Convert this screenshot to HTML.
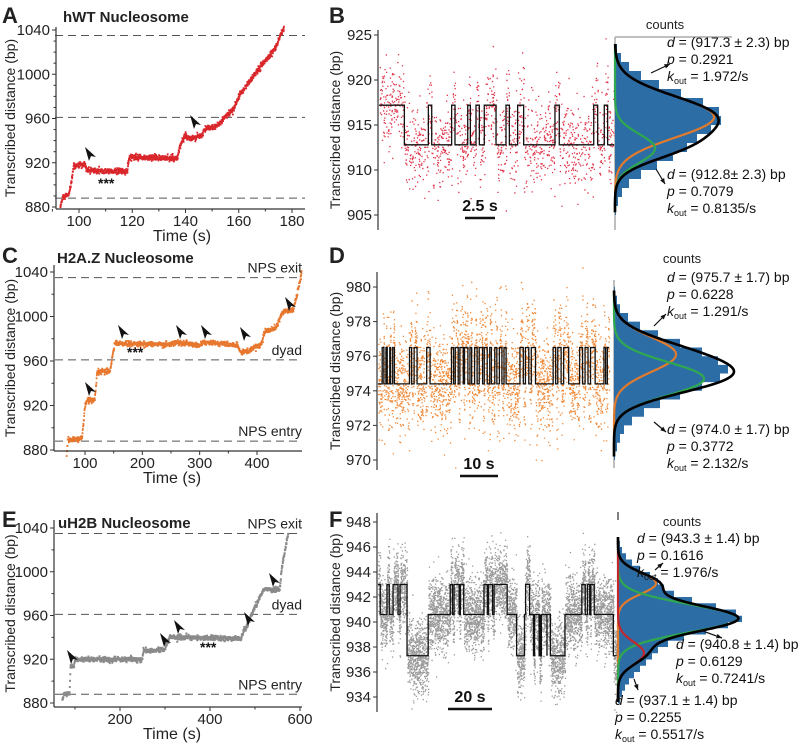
<!DOCTYPE html>
<html><head><meta charset="utf-8"><style>
html,body{margin:0;padding:0;background:#fff}
svg{display:block;font-family:"Liberation Sans",sans-serif}
</style></head><body>
<svg id="fig" width="798" height="748" viewBox="0 0 798 748" xmlns="http://www.w3.org/2000/svg">
<g id="static" font-size="13" fill="#222">
<text x="2" y="23" font-size="22" font-weight="bold">A</text>
<text x="329" y="23" font-size="22" font-weight="bold">B</text>
<text x="2" y="263" font-size="22" font-weight="bold">C</text>
<text x="329" y="263" font-size="22" font-weight="bold">D</text>
<text x="2" y="527" font-size="22" font-weight="bold">E</text>
<text x="329" y="527" font-size="22" font-weight="bold">F</text>
<text x="63" y="22" font-size="15" font-weight="bold">hWT Nucleosome</text>
<text x="57" y="263" font-size="15" font-weight="bold">H2A.Z Nucleosome</text>
<text x="58" y="528" font-size="15" font-weight="bold">uH2B Nucleosome</text>
</g>
<g id="dyn"></g>
</svg>
<script>
// ---------- data ----------
const aTime=[93,94,96,97,98,102,103,118,119,137,138,140,141,146,147,152,155,158,160,163,166,168,171,174,177];
const aBp=[880,889,890,900,917,918,913,912,925,924,935,946,942,944,950,953,962,968,980,990,1000,1006,1015,1025,1042];
const cTime=[68,70,95,100,103,117,119,121,144,148,152,250,255,300,305,367,370,385,408,413,433,444,463,470,478];
const cBp=[876,889,890,920,924,925,935,950,951,965,976,975,977,974,977,974,968,969,975,986,990,1004,1006,1020,1040];
const eTime=[72,75,88,90,98,100,250,252,300,305,310,470,475,480,490,500,515,520,555,560,574];
const eBp=[882,888,889,913,914,920,920,928,929,935,940,939,946,948,958,968,980,984,983,1005,1036];
const bStart=-1.83;
const bTrans=[0.28,2.28,2.56,4.22,4.5,5.56,5.78,6.25,6.53,6.94,7.92,8.75,9.03,9.72,10.22,12.83,13.19,16.06,16.39,16.94,17.22,17.78];
const bLevels=[912.8,917.2];
const dTrans=[1.0,1.4,1.9,2.2,2.8,3.0,3.5,3.9,7.5,8.0,8.6,9.3,11.6,12.4,17.5,18.0,18.4,19.1,19.5,20.3,20.6,21.4,21.9,22.3,23.0,23.6,24.1,24.9,25.3,26.0,26.6,27.0,27.8,28.3,28.9,29.5,30.0,30.5,33.8,34.6,35.1,35.9,36.5,37.5,41.7,42.3,42.8,43.6,44.2,45.4,48.0,48.7,49.3,50.0,50.6,51.7,53.8,54.2,54.6,55];
const dLevels=[974.4,976.5];
const fStates=[2,1,2,1,2,1,2,0,1,2,1,2,1,2,1,2,1,2,1,2,1,0,1,2,1,0,1,0,1,0,1,0,1,0,1,2,1,2,1,2,1,0];
const fEnds=[1,4,5,6.7,8.9,9.8,12.9,22.3,32.1,33.1,33.8,36.1,36.6,38.1,47.1,48.6,49.1,50.9,51.6,57.4,61.6,65.1,65.6,67.4,69.1,69.6,71.6,72.1,72.1,72.6,75.1,75.1,76.6,83.1,90.6,92.1,93.1,94.1,94.6,96.1,104.6,106.1];
const fLevels=[937.3,940.6,943.0];
const bBins=[905.5,906.5,907.5,908.5,909.5,910.5,911.5,912.5,913.5,914.5,915.5,916.5,917.5,918.5,919.5,920.5,921.5,922.5,923.5];
const bCounts=[1,3,7,14,26,42,58,72,82,96,106,104,88,66,44,26,14,6,2];
const dBins=[970.25,970.75,971.25,971.75,972.25,972.75,973.25,973.75,974.25,974.75,975.25,975.75,976.25,976.75,977.25,977.75,978.25,978.75,979.25,979.75];
const dCounts=[1,3,6,10,18,30,46,66,88,106,114,104,88,66,44,26,14,6,3,1];
const fBins=[933.75,934.25,934.75,935.25,935.75,936.25,936.75,937.25,937.75,938.25,938.75,939.25,939.75,940.25,940.75,941.25,941.75,942.25,942.75,943.25,943.75,944.25,944.75,945.25,945.75,946.25];
const fCounts=[2,4,7,11,16,22,28,34,40,50,66,88,110,124,118,98,74,56,46,40,32,22,14,8,4,2];
const bFit=[[915.9,2.3,99,'#e07b2e'],[912.4,1.6,40,'#2fa84f']];
const dFit=[[976.1,1.0,62,'#e07b2e'],[974.7,0.95,90,'#2fa84f']];
const fFit=[[943.1,0.85,38,'#e07b2e'],[940.3,1.1,120,'#2fa84f'],[937.5,0.9,26,'#c0282d']];

// ---------- helpers ----------
const NS='http://www.w3.org/2000/svg';
const dyn=document.getElementById('dyn');
function mk(tag,attrs,parent){const e=document.createElementNS(NS,tag);for(const k in attrs)e.setAttribute(k,attrs[k]);(parent||dyn).appendChild(e);return e;}
let seed=12345;
function rnd(){seed|=0;seed=seed+0x6D2B79F5|0;let t=Math.imul(seed^seed>>>15,1|seed);t=t+Math.imul(t^t>>>7,61|t)^t;return((t^t>>>14)>>>0)/4294967296;}
function gauss(){let u=0,v=0;while(u===0)u=rnd();v=rnd();return Math.sqrt(-2*Math.log(u))*Math.cos(2*Math.PI*v);}
function lin(d0,d1,r0,r1){return v=>r0+(v-d0)*(r1-r0)/(d1-d0);}

function yAxis(x,y0,y1,ticks,yf,minor,name,titleX){
  const g=mk('g',{});
  
  
  mk('line',{x1:x,y1:y0,x2:x,y2:y1,stroke:'#333','stroke-width':1.2},g);
  ticks.forEach(v=>{const y=yf(v);
    mk('line',{x1:x-4,y1:y,x2:x,y2:y,stroke:'#333'},g);
    const t=mk('text',{x:x-6,y:y+5,'text-anchor':'end','font-size':15,fill:'#222'},g);t.textContent=v;});
  (minor||[]).forEach(v=>{const y=yf(v);mk('line',{x1:x-2.5,y1:y,x2:x,y2:y,stroke:'#333'},g);});
  const mid=(y0+y1)/2;
  const t=mk('text',{x:titleX,y:mid,'text-anchor':'middle','font-size':14,fill:'#222',transform:`rotate(-90 ${titleX} ${mid})`},g);
  t.textContent='Transcribed distance (bp)';
}
function xAxis(y,x0,x1,ticks,xf,minor,name,cx){
  const g=mk('g',{});
  
  
  mk('line',{x1:x0,y1:y,x2:x1,y2:y,stroke:'#333','stroke-width':1.2},g);
  ticks.forEach(v=>{const x=xf(v);mk('line',{x1:x,y1:y,x2:x,y2:y+4,stroke:'#333'},g);
    const t=mk('text',{x:x,y:y+17,'text-anchor':'middle','font-size':15,fill:'#222'},g);t.textContent=v;});
  (minor||[]).forEach(v=>{const x=xf(v);mk('line',{x1:x,y1:y,x2:x,y2:y+2.5,stroke:'#333'},g);});
  const t=mk('text',{x:cx,y:y+32,'text-anchor':'middle','font-size':16,fill:'#222'},g);t.textContent='Time (s)';
}
function dashed(x0,x1,y,name,label){
  const l=mk('line',{x1:x0,y1:y,x2:x1,y2:y,stroke:'#555','stroke-dasharray':'8,5','stroke-width':1});
  
  
  if(label){const t=mk('text',{x:x1,y:y-5,'text-anchor':'end','font-size':14,fill:'#222'});t.textContent=label;
    
    }
}
function traceAt(T,B,t){for(let i=0;i<T.length-1;i++){if(t<=T[i+1]){const f=(t-T[i])/(T[i+1]-T[i]);return B[i]+f*(B[i+1]-B[i]);}}return B[B.length-1];}
function drawTrace(T,B,xf,yf,dt,sd,color,name,sz){
  let d='';
  for(let t=T[0];t<=T[T.length-1];t+=dt){const v=traceAt(T,B,t)+gauss()*sd;
    d+=`M${(xf(t)-sz/2).toFixed(1)} ${(yf(v)-sz/2).toFixed(1)}h${sz}v${sz}h-${sz}z`;}
  const p=mk('path',{d:d,fill:color});
  
  
}
function arrowHead(x,y,name){
  const p=mk('path',{d:`M${x-7} ${y-8} L${x+4} ${y+2} L${x-1} ${y+1} L${x-3} ${y+6} Z`,fill:'#111'});
  
  
}
function stars(x,y,name){const t=mk('text',{x:x,y:y,'font-size':14,'font-weight':'bold',fill:'#111'});t.textContent='***';
  
  }
function drawSteps(segs,xf,yf,sd,color,dotsPerSec,name,sz){
  let d='';
  segs.forEach(s=>{const n=Math.round((s[1]-s[0])*dotsPerSec);
    for(let i=0;i<n;i++){const t=s[0]+rnd()*(s[1]-s[0]);const v=s[2]+gauss()*sd;
      d+=`M${xf(t).toFixed(1)} ${yf(v).toFixed(1)}h${sz}v${sz}h-${sz}z`;}});
  const p=mk('path',{d:d,fill:color});
  
  
  let l='';
  segs.forEach((s,i)=>{const x0=xf(s[0]),x1=xf(s[1]),y=yf(s[2]);
    l+=(i===0?`M${x0} ${y}`:`L${x0} ${y}`)+`L${x1} ${y}`;});
  const q=mk('path',{d:l,fill:'none',stroke:'#111','stroke-width':1.3});
  
  
}
function hist(x0,yf,bins,counts,binW,fits,top,bot,name){
  let d='';
  bins.forEach((b,i)=>{const ya=yf(b+binW/2),yb=yf(b-binW/2);
    d+=`M${x0} ${ya}h${counts[i]}V${yb}H${x0}z`;});
  const p=mk('path',{d:d,fill:'#2d6da6'});
  
  
  const dv=0.05;let sum='';
  fits.forEach((f,k)=>{let s='';
    for(let v=bot;v<=top;v+=dv){const x=x0+f[2]*Math.exp(-((v-f[0])**2)/(2*f[1]*f[1]));s+=(s?'L':'M')+x.toFixed(1)+' '+yf(v).toFixed(1);}
    const c=mk('path',{d:s,fill:'none',stroke:f[3],'stroke-width':2.2});
    
    });
  for(let v=bot;v<=top;v+=dv){let x=x0;fits.forEach(f=>{x+=f[2]*Math.exp(-((v-f[0])**2)/(2*f[1]*f[1]));});sum+=(sum?'L':'M')+x.toFixed(1)+' '+yf(v).toFixed(1);}
  const c=mk('path',{d:sum,fill:'none',stroke:'#000','stroke-width':2.6});
  
  
}
function annot(x,y,dv,pv,kv,name){
  const g=mk('g',{'font-size':14,fill:'#111'});
  
  
  const a=mk('text',{x:x,y:y},g);a.innerHTML=`<tspan font-style="italic">d</tspan> = (${dv}) bp`;
  const b=mk('text',{x:x,y:y+17},g);b.innerHTML=`<tspan font-style="italic">p</tspan> = ${pv}`;
  const c=mk('text',{x:x,y:y+34},g);c.innerHTML=`<tspan font-style="italic">k</tspan><tspan font-size="9" dy="3">out</tspan><tspan dy="-3"> = ${kv}</tspan>`;
}
function arrow(x1,y1,x2,y2,name){
  const l=mk('line',{x1:x1,y1:y1,x2:x2,y2:y2,stroke:'#111','stroke-width':1.2});
  
  
  const ang=Math.atan2(y2-y1,x2-x1),h=6;
  mk('path',{d:`M${x2} ${y2}L${x2-h*Math.cos(ang-0.4)} ${y2-h*Math.sin(ang-0.4)}L${x2-h*Math.cos(ang+0.4)} ${y2-h*Math.sin(ang+0.4)}Z`,fill:'#111'});
}
function scaleBar(x0,x1,y,label,name){
  const l=mk('line',{x1:x0,y1:y,x2:x1,y2:y,stroke:'#111','stroke-width':2.5});
  
  
  const t=mk('text',{x:(x0+x1)/2,y:y-7,'text-anchor':'middle','font-size':16,'font-weight':'bold',fill:'#111'});t.textContent=label;
}
function label(x,y,txt,name,anchor){const t=mk('text',{x:x,y:y,'font-size':13,fill:'#222','text-anchor':anchor||'middle'});t.textContent=txt;
  
  }

// ---------- Panel A ----------
const yA=lin(880,1040,207,30), xA=lin(100,180,79,292);
dashed(55,305,yA(1035),'a-nps-exit-line');dashed(55,305,yA(961),'a-dyad-line');dashed(55,305,yA(888),'a-nps-entry-line');
drawTrace(aTime,aBp,xA,yA,0.07,1.3,'#d9262b','a-trace',1.8);
yAxis(56,27,209,[880,920,960,1000,1040],yA,[890,900,910,930,940,950,970,980,990,1010,1020,1030],'a-y-axis',15);
xAxis(209,56,305,[100,120,140,160,180],xA,[90,110,130,150,170],'a-x-axis',182);
arrowHead(92,155,'a-arrowhead-1');arrowHead(197,123,'a-arrowhead-2');stars(98,188,'a-stars');

// ---------- Panel C ----------
const yC=lin(880,1040,450,272), xC=lin(100,400,85,257);
dashed(55,302,yC(1035),'c-nps-exit-line','NPS exit');dashed(55,302,yC(961),'c-dyad-line','dyad');dashed(55,302,yC(888),'c-nps-entry-line','NPS entry');
drawTrace(cTime,cBp,xC,yC,0.35,1.2,'#e8772e','c-trace',1.8);
yAxis(54,265,451,[880,920,960,1000,1040],yC,[900,940,980,1020],'c-y-axis',15);
xAxis(451,54,302,[100,200,300,400],xC,[150,250,350],'c-x-axis',172);
arrowHead(92,390,'c-arrowhead-1');arrowHead(125,333,'c-arrowhead-2');arrowHead(183,333,'c-arrowhead-3');arrowHead(208,333,'c-arrowhead-4');arrowHead(247,335,'c-arrowhead-5');arrowHead(292,305,'c-arrowhead-6');
stars(127,357,'c-stars');

// ---------- Panel E ----------
const yE=lin(880,1040,703,528), xE=lin(200,600,120,300);
dashed(55,302,yE(1035),'e-nps-exit-line','NPS exit');dashed(55,302,yE(961),'e-dyad-line','dyad');dashed(55,302,yE(888),'e-nps-entry-line','NPS entry');
drawTrace(eTime,eBp,xE,yE,0.5,1.1,'#8a8a8a','e-trace',2);
yAxis(54,520,707,[880,920,960,1000,1040],yE,[900,940,980,1020],'e-y-axis',15);
xAxis(707,54,302,[200,400,600],xE,[100,300,500],'e-x-axis',172);
arrowHead(74,658,'e-arrowhead-1');arrowHead(167,641,'e-arrowhead-2');arrowHead(181,628,'e-arrowhead-3');arrowHead(251,620,'e-arrowhead-4');arrowHead(276,581,'e-arrowhead-5');
stars(200,652,'e-stars');

// ---------- Panel B ----------
const yB=lin(905,925,215,35), xB=lin(0,1,401,413);
{const segs=[];let st=1,t0=bStart;bTrans.forEach(t=>{segs.push([t0,t,bLevels[st]]);st=1-st;t0=t;});
 drawSteps(segs,xB,yB,2.3,'#e0344a',75,'b-trace',1.3);}
yAxis(378,30,230,[905,910,915,920,925],yB,[],'b-y-axis',340);
mk('line',{x1:615,y1:37,x2:732,y2:37,stroke:'#aaa','stroke-width':1.5});
mk('line',{x1:615,y1:37,x2:615,y2:230,stroke:'#aaa','stroke-width':1.5});
hist(615,yB,bBins,bCounts,1,bFit,924,905.3,'b-hist');
label(665,29,'counts','b-counts-label');
annot(667,47,'917.3 ± 2.3','0.2921','1.972/s','b-annotation-high');arrow(651,73,670,64,'b-arrow-high');
annot(667,179,'912.8± 2.3','0.7079','0.8135/s','b-annotation-low');arrow(656,169,665,184,'b-arrow-low');
scaleBar(465,495,218,'2.5 s','b-scale-bar');

// ---------- Panel D ----------
const yD=lin(970,980,460,287), xD=lin(0,1,378,382.2);
{const segs=[];let st=0,t0=0;dTrans.forEach(t=>{segs.push([t0,t,dLevels[st]]);st=1-st;t0=t;});
 drawSteps(segs,xD,yD,1.35,'#ef8a3a',60,'d-trace',1.3);}
yAxis(377,272,470,[970,972,974,976,978,980],yD,[],'d-y-axis',340);
mk('line',{x1:614,y1:280,x2:614,y2:468,stroke:'#aaa','stroke-width':1.5});
hist(614,yD,dBins,dCounts,0.5,dFit,979.8,970.2,'d-hist');
label(682,263,'counts','d-counts-label');
annot(667,282,'975.7 ± 1.7','0.6228','1.291/s','d-annotation-high');arrow(654,326,666,314,'d-arrow-high');
annot(667,434,'974.0 ± 1.7','0.3772','2.132/s','d-annotation-low');arrow(654,422,666,432,'d-arrow-low');
scaleBar(460,498,476,'10 s','d-scale-bar');

// ---------- Panel F ----------
const yF=lin(934,948,697,522), xF=lin(0,1,378,380.25);
{const segs=[];let t0=0;fStates.forEach((s,i)=>{segs.push([t0,fEnds[i],fLevels[s]]);t0=fEnds[i];});
 drawSteps(segs,xF,yF,1.4,'#9a9a9a',70,'f-trace',1.3);}
yAxis(377,513,712,[934,936,938,940,942,944,946,948],yF,[],'f-y-axis',340);
mk('line',{x1:618,y1:512,x2:618,y2:520,stroke:'#555','stroke-width':1.5});
hist(618,yF,fBins,fCounts,0.5,fFit,946.8,933.6,'f-hist');
label(682,526,'counts','f-counts-label');
annot(637,543,'943.3 ± 1.4','0.1616','1.976/s','f-annotation-high');arrow(655,570,663,563,'f-arrow-high');
annot(676,649,'940.8 ± 1.4','0.6129','0.7241/s','f-annotation-mid');arrow(700,630,722,638,'f-arrow-mid');
annot(615,705,'937.1 ± 1.4','0.2255','0.5517/s','f-annotation-low');arrow(634,679,638,690,'f-arrow-low');
scaleBar(448,492,709,'20 s','f-scale-bar');
</script>
</body></html>
